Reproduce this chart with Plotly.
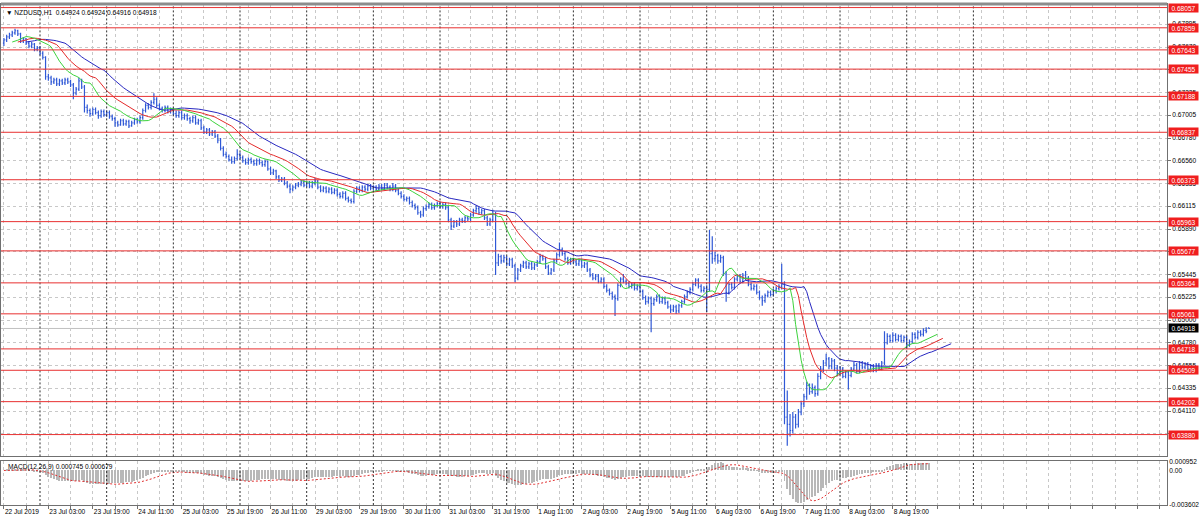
import plotly.graph_objects as go
import pandas as pd

SYMBOL = "NZDUSD,H1"
FIRST_BAR = -13  # bar index of the leftmost bar (22 Jul 11:00); bar 0 = 23 Jul 00:00

open_ = [
    0.6771,0.6774,0.6777,0.6779,0.6781,0.6783,0.6780,0.6773,0.6775,0.6771,0.6768,0.6770,0.6765,
    0.6766,0.6761,0.6757,0.6738,0.6737,0.6733,0.6735,0.6731,0.6734,0.6732,0.6735,0.6733,0.6730,0.6722,0.6726,0.6734,0.6728,0.6708,0.6705,0.6702,0.6706,0.6703,0.6700,0.6704,
    0.6701,0.6703,0.6699,0.6697,0.6693,0.6691,0.6695,0.6692,0.6694,0.6690,0.6693,0.6696,0.6694,0.6698,0.6705,0.6710,0.6708,0.6713,0.6716,0.6710,0.6707,0.6705,0.6708,0.6704,
    0.6706,0.6702,0.6700,0.6703,0.6698,0.6700,0.6697,0.6695,0.6698,0.6693,0.6695,0.6688,0.6684,0.6686,0.6682,0.6684,0.6680,0.6676,0.6668,0.6662,0.6660,0.6657,0.6655,0.6658,
    0.6662,0.6659,0.6656,0.6654,0.6657,0.6655,0.6653,0.6656,0.6654,0.6652,0.6655,0.6648,0.6644,0.6646,0.6640,0.6637,0.6638,0.6634,0.6631,0.6628,0.6630,0.6632,0.6633,0.6635,
    0.6632,0.6634,0.6631,0.6634,0.6636,0.6630,0.6627,0.6629,0.6626,0.6628,0.6625,0.6627,0.6623,0.6621,0.6624,0.6619,0.6617,0.6616,0.6626,0.6629,0.6627,0.6630,0.6628,0.6631,
    0.6629,0.6630,0.6628,0.6631,0.6629,0.6632,0.6630,0.6628,0.6631,0.6627,0.6624,0.6621,0.6618,0.6619,0.6615,0.6612,0.6610,0.6605,0.6603,0.6609,0.6611,0.6613,0.6610,0.6612,
    0.6614,0.6611,0.6613,0.6610,0.6598,0.6592,0.6596,0.6594,0.6598,0.6597,0.6600,0.6599,0.6603,0.6607,0.6609,0.6605,0.6607,0.6600,0.6594,0.6598,0.6604,0.6556,0.6562,0.6558,
    0.6561,0.6555,0.6559,0.6553,0.6541,0.6549,0.6553,0.6556,0.6552,0.6555,0.6551,0.6554,0.6557,0.6562,0.6560,0.6552,0.6546,0.6549,0.6558,0.6564,0.6569,0.6565,0.6560,0.6556,
    0.6559,0.6557,0.6555,0.6558,0.6553,0.6555,0.6549,0.6544,0.6541,0.6543,0.6538,0.6540,0.6533,0.6529,0.6526,0.6523,0.6521,0.6534,0.6540,0.6538,0.6536,0.6533,0.6535,0.6531,
    0.6533,0.6528,0.6522,0.6518,0.6521,0.6516,0.6520,0.6523,0.6518,0.6521,0.6517,0.6513,0.6510,0.6513,0.6509,0.6514,0.6518,0.6523,0.6527,0.6530,0.6535,0.6539,0.6533,0.6529,
    0.6531,0.6530,0.6565,0.6560,0.6563,0.6558,0.6561,0.6545,0.6527,0.6535,0.6532,0.6540,0.6543,0.6538,0.6544,0.6541,0.6535,0.6531,0.6533,0.6527,0.6522,0.6519,0.6524,0.6527,
    0.6525,0.6529,0.6531,0.6533,0.6535,0.6405,0.6398,0.6392,0.6405,0.6398,0.6410,0.6418,0.6425,0.6436,0.6430,0.6434,0.6428,0.6445,0.6452,0.6458,0.6462,0.6455,0.6460,0.6453,
    0.6448,0.6452,0.6445,0.6449,0.6446,0.6452,0.6456,0.6450,0.6458,0.6454,0.6457,0.6452,0.6455,0.6451,0.6456,0.6453,0.6458,0.6478,0.6484,0.6480,0.6485,0.6481,0.6484,0.6480,
    0.6483,0.6476,0.6479,0.6486,0.6483,0.6488,0.6486,0.6490,0.64924,
]
high = [
    0.6776,0.6779,0.6781,0.6783,0.6785,0.6784,0.6781,0.6777,0.6776,0.6773,0.6772,0.6771,0.6768,
    0.6768,0.6763,0.6758,0.6741,0.6739,0.6737,0.6737,0.6736,0.6736,0.6737,0.6737,0.6735,0.6732,0.6728,0.6737,0.6736,0.6730,0.6711,0.6707,0.6708,0.6708,0.6705,0.6706,0.6706,
    0.6705,0.6705,0.6701,0.6699,0.6695,0.6697,0.6697,0.6696,0.6696,0.6695,0.6698,0.6698,0.6700,0.6707,0.6712,0.6712,0.6715,0.6722,0.6718,0.6712,0.6709,0.6710,0.6710,0.6708,
    0.6708,0.6705,0.6705,0.6705,0.6702,0.6702,0.6699,0.6700,0.6700,0.6697,0.6697,0.6690,0.6688,0.6688,0.6686,0.6686,0.6682,0.6678,0.6670,0.6665,0.6662,0.6660,0.6660,0.6667,
    0.6664,0.6661,0.6658,0.6659,0.6659,0.6657,0.6658,0.6658,0.6656,0.6657,0.6656,0.6650,0.6648,0.6647,0.6642,0.6640,0.6640,0.6636,0.6633,0.6632,0.6634,0.6635,0.6637,0.6637,
    0.6636,0.6636,0.6636,0.6639,0.6637,0.6632,0.6631,0.6631,0.6630,0.6630,0.6629,0.6629,0.6625,0.6626,0.6626,0.6621,0.6619,0.6628,0.6631,0.6631,0.6632,0.6632,0.6633,0.6633,
    0.6632,0.6632,0.6633,0.6633,0.6634,0.6634,0.6632,0.6634,0.6633,0.6629,0.6626,0.6623,0.6621,0.6621,0.6617,0.6614,0.6612,0.6607,0.6611,0.6613,0.6615,0.6615,0.6614,0.6616,
    0.6616,0.6615,0.6615,0.6612,0.6600,0.6598,0.6598,0.6600,0.6600,0.6602,0.6602,0.6605,0.6609,0.6612,0.6611,0.6609,0.6609,0.6602,0.6600,0.6608,0.6606,0.6565,0.6564,0.6564,
    0.6563,0.6561,0.6561,0.6555,0.6551,0.6555,0.6558,0.6558,0.6557,0.6557,0.6556,0.6559,0.6565,0.6564,0.6562,0.6554,0.6551,0.6560,0.6566,0.6576,0.6571,0.6567,0.6562,0.6561,
    0.6561,0.6559,0.6560,0.6560,0.6557,0.6557,0.6551,0.6546,0.6545,0.6545,0.6542,0.6542,0.6535,0.6531,0.6528,0.6525,0.6536,0.6542,0.6545,0.6540,0.6538,0.6537,0.6537,0.6535,
    0.6535,0.6530,0.6524,0.6523,0.6523,0.6522,0.6525,0.6525,0.6523,0.6523,0.6519,0.6515,0.6515,0.6515,0.6516,0.6520,0.6525,0.6529,0.6532,0.6537,0.6541,0.6541,0.6535,0.6533,
    0.6534,0.6588,0.6582,0.6567,0.6565,0.6564,0.6563,0.6548,0.6537,0.6537,0.6542,0.6545,0.6545,0.6546,0.6548,0.6543,0.6537,0.6535,0.6535,0.6529,0.6524,0.6526,0.6529,0.6529,
    0.6531,0.6533,0.6535,0.6555,0.6538,0.6431,0.6408,0.6410,0.6408,0.6413,0.6421,0.6428,0.6440,0.6438,0.6438,0.6436,0.6448,0.6455,0.6461,0.6467,0.6464,0.6463,0.6462,0.6456,
    0.6455,0.6454,0.6451,0.6451,0.6454,0.6459,0.6458,0.6460,0.6460,0.6459,0.6459,0.6457,0.6457,0.6458,0.6458,0.6460,0.6489,0.6487,0.6486,0.6488,0.6487,0.6486,0.6486,0.6485,
    0.6485,0.6481,0.6488,0.6488,0.6490,0.6490,0.6492,0.6493,0.64924,
]
low = [
    0.6768,0.6772,0.6775,0.6777,0.6779,0.6778,0.6771,0.6771,0.6769,0.6766,0.6766,0.6763,0.6763,
    0.6759,0.6755,0.6735,0.6734,0.6730,0.6731,0.6729,0.6729,0.6730,0.6730,0.6731,0.6728,0.6716,0.6720,0.6724,0.6726,0.6703,0.6702,0.6699,0.6700,0.6701,0.6697,0.6698,0.6699,
    0.6699,0.6697,0.6695,0.6689,0.6689,0.6690,0.6690,0.6690,0.6688,0.6689,0.6691,0.6692,0.6692,0.6696,0.6703,0.6706,0.6706,0.6711,0.6708,0.6705,0.6703,0.6703,0.6702,0.6702,
    0.6700,0.6698,0.6698,0.6696,0.6696,0.6695,0.6692,0.6693,0.6691,0.6691,0.6686,0.6682,0.6682,0.6680,0.6680,0.6678,0.6673,0.6666,0.6660,0.6658,0.6655,0.6653,0.6653,0.6656,
    0.6657,0.6654,0.6652,0.6652,0.6653,0.6651,0.6651,0.6652,0.6650,0.6650,0.6646,0.6642,0.6642,0.6638,0.6635,0.6635,0.6632,0.6629,0.6624,0.6626,0.6628,0.6630,0.6631,0.6630,
    0.6630,0.6629,0.6629,0.6632,0.6628,0.6625,0.6625,0.6624,0.6624,0.6623,0.6623,0.6621,0.6619,0.6619,0.6617,0.6615,0.6614,0.6614,0.6624,0.6625,0.6625,0.6626,0.6626,0.6627,
    0.6627,0.6626,0.6626,0.6627,0.6627,0.6628,0.6626,0.6626,0.6625,0.6622,0.6619,0.6616,0.6616,0.6613,0.6610,0.6608,0.6603,0.6600,0.6601,0.6607,0.6609,0.6608,0.6608,0.6610,
    0.6609,0.6609,0.6608,0.6596,0.6588,0.6590,0.6591,0.6592,0.6595,0.6595,0.6597,0.6597,0.6601,0.6605,0.6603,0.6603,0.6598,0.6592,0.6592,0.6596,0.6544,0.6553,0.6555,0.6556,
    0.6553,0.6553,0.6551,0.6537,0.6539,0.6547,0.6551,0.6550,0.6550,0.6549,0.6549,0.6552,0.6555,0.6558,0.6550,0.6544,0.6544,0.6547,0.6556,0.6562,0.6563,0.6558,0.6554,0.6554,
    0.6555,0.6553,0.6553,0.6551,0.6551,0.6547,0.6542,0.6539,0.6539,0.6536,0.6536,0.6531,0.6527,0.6524,0.6520,0.6504,0.6519,0.6532,0.6536,0.6534,0.6531,0.6531,0.6529,0.6529,
    0.6526,0.6520,0.6515,0.6516,0.6488,0.6514,0.6518,0.6516,0.6516,0.6515,0.6511,0.6507,0.6508,0.6506,0.6507,0.6512,0.6516,0.6521,0.6525,0.6528,0.6533,0.6531,0.6527,0.6527,
    0.6508,0.6528,0.6555,0.6557,0.6555,0.6556,0.6543,0.6518,0.6525,0.6530,0.6530,0.6538,0.6536,0.6536,0.6539,0.6533,0.6529,0.6529,0.6525,0.6520,0.6514,0.6517,0.6522,0.6523,
    0.6523,0.6526,0.6529,0.6530,0.6398,0.6377,0.6386,0.6389,0.6394,0.6395,0.6407,0.6415,0.6422,0.6427,0.6428,0.6425,0.6426,0.6442,0.6449,0.6455,0.6452,0.6452,0.6450,0.6445,
    0.6446,0.6443,0.6443,0.6432,0.6444,0.6450,0.6448,0.6448,0.6452,0.6452,0.6450,0.6450,0.6449,0.6449,0.6451,0.6451,0.6456,0.6476,0.6478,0.6478,0.6479,0.6479,0.6478,0.6478,
    0.6472,0.6474,0.6477,0.6481,0.6481,0.6484,0.6484,0.6487,0.64916,
]
close = [
    0.6774,0.6777,0.6779,0.6781,0.6783,0.6780,0.6773,0.6775,0.6771,0.6768,0.6770,0.6765,0.6766,
    0.6761,0.6757,0.6738,0.6737,0.6733,0.6735,0.6731,0.6734,0.6732,0.6735,0.6733,0.6730,0.6722,0.6726,0.6734,0.6728,0.6708,0.6705,0.6702,0.6706,0.6703,0.6700,0.6704,0.6701,
    0.6703,0.6699,0.6697,0.6693,0.6691,0.6695,0.6692,0.6694,0.6690,0.6693,0.6696,0.6694,0.6698,0.6705,0.6710,0.6708,0.6713,0.6716,0.6710,0.6707,0.6705,0.6708,0.6704,0.6706,
    0.6702,0.6700,0.6703,0.6698,0.6700,0.6697,0.6695,0.6698,0.6693,0.6695,0.6688,0.6684,0.6686,0.6682,0.6684,0.6680,0.6676,0.6668,0.6662,0.6660,0.6657,0.6655,0.6658,0.6662,
    0.6659,0.6656,0.6654,0.6657,0.6655,0.6653,0.6656,0.6654,0.6652,0.6655,0.6648,0.6644,0.6646,0.6640,0.6637,0.6638,0.6634,0.6631,0.6628,0.6630,0.6632,0.6633,0.6635,0.6632,
    0.6634,0.6631,0.6634,0.6636,0.6630,0.6627,0.6629,0.6626,0.6628,0.6625,0.6627,0.6623,0.6621,0.6624,0.6619,0.6617,0.6616,0.6626,0.6629,0.6627,0.6630,0.6628,0.6631,0.6629,
    0.6630,0.6628,0.6631,0.6629,0.6632,0.6630,0.6628,0.6631,0.6627,0.6624,0.6621,0.6618,0.6619,0.6615,0.6612,0.6610,0.6605,0.6603,0.6609,0.6611,0.6613,0.6610,0.6612,0.6614,
    0.6611,0.6613,0.6610,0.6598,0.6592,0.6596,0.6594,0.6598,0.6597,0.6600,0.6599,0.6603,0.6607,0.6609,0.6605,0.6607,0.6600,0.6594,0.6598,0.6604,0.6556,0.6562,0.6558,0.6561,
    0.6555,0.6559,0.6553,0.6541,0.6549,0.6553,0.6556,0.6552,0.6555,0.6551,0.6554,0.6557,0.6562,0.6560,0.6552,0.6546,0.6549,0.6558,0.6564,0.6569,0.6565,0.6560,0.6556,0.6559,
    0.6557,0.6555,0.6558,0.6553,0.6555,0.6549,0.6544,0.6541,0.6543,0.6538,0.6540,0.6533,0.6529,0.6526,0.6523,0.6521,0.6534,0.6540,0.6538,0.6536,0.6533,0.6535,0.6531,0.6533,
    0.6528,0.6522,0.6518,0.6521,0.6516,0.6520,0.6523,0.6518,0.6521,0.6517,0.6513,0.6510,0.6513,0.6509,0.6514,0.6518,0.6523,0.6527,0.6530,0.6535,0.6539,0.6533,0.6529,0.6531,
    0.6530,0.6565,0.6560,0.6563,0.6558,0.6561,0.6545,0.6527,0.6535,0.6532,0.6540,0.6543,0.6538,0.6544,0.6541,0.6535,0.6531,0.6533,0.6527,0.6522,0.6519,0.6524,0.6527,0.6525,
    0.6529,0.6531,0.6533,0.6535,0.6405,0.6398,0.6392,0.6405,0.6398,0.6410,0.6418,0.6425,0.6436,0.6430,0.6434,0.6428,0.6445,0.6452,0.6458,0.6462,0.6455,0.6460,0.6453,0.6448,
    0.6452,0.6445,0.6449,0.6446,0.6452,0.6456,0.6450,0.6458,0.6454,0.6457,0.6452,0.6455,0.6451,0.6456,0.6453,0.6458,0.6478,0.6484,0.6480,0.6485,0.6481,0.6484,0.6480,0.6483,
    0.6476,0.6479,0.6486,0.6483,0.6488,0.6486,0.6490,0.6489,0.64918,
]

LEVELS = [0.68057, 0.67859, 0.67643, 0.67455, 0.67188, 0.66837, 0.66373, 0.65963,
          0.65677, 0.65364, 0.65061, 0.64718, 0.64509, 0.64202, 0.63880]
PRICE_TICKS = [0.63665, 0.63890, 0.64110, 0.64335, 0.64555, 0.64780, 0.65000, 0.65225,
               0.65445, 0.65670, 0.65890, 0.66115, 0.66335, 0.66560, 0.66780, 0.67005,
               0.67225, 0.67450, 0.67670, 0.67895]
LABEL_BARS = [-13, 3, 19, 35, 51, 67, 83, 99, 115, 131, 147, 163, 179, 195, 211, 227,
              243, 259, 275, 291, 307]
LABEL_TEXT = ["22 Jul 2019", "23 Jul 03:00", "23 Jul 19:00", "24 Jul 11:00", "25 Jul 03:00",
              "25 Jul 19:00", "26 Jul 11:00", "29 Jul 03:00", "29 Jul 19:00", "30 Jul 11:00",
              "31 Jul 03:00", "31 Jul 19:00", "1 Aug 11:00", "2 Aug 03:00", "2 Aug 19:00",
              "5 Aug 11:00", "6 Aug 03:00", "6 Aug 19:00", "7 Aug 11:00", "8 Aug 03:00",
              "8 Aug 19:00"]
DAY_START_BARS = [0, 24, 48, 72, 96, 120, 144, 168, 192, 216, 240, 264, 288, 312, 336]
MACD_TICKS = [0.000952, 0.0, -0.003602]
MACD_TICK_TEXT = ["0.000952", "0.00", "-0.003602"]
MACD_SHOWN = [0.000745, 0.000679]

# ---------------- derived series ----------------
n = len(close)
bars = list(range(FIRST_BAR, FIRST_BAR + n))
df = pd.DataFrame({"o": open_, "h": high, "l": low, "c": close}, index=bars)
median = (df["h"] + df["l"]) / 2


def smma(s, period):
    return s.ewm(alpha=1.0 / period, adjust=False).mean()


jaw = smma(median, 13)
teeth = smma(median, 8)
lips = smma(median, 5)
ema12 = df["c"].ewm(span=12, adjust=False).mean()
ema26 = df["c"].ewm(span=26, adjust=False).mean()
macd = ema12 - ema26
signal = macd.rolling(9, min_periods=1).mean()

FONT = "Liberation Sans"
FS = 6.6
BAR_BLUE = "#2f58d6"

fig = go.Figure()
fig.add_trace(go.Ohlc(x=bars, open=df["o"], high=df["h"], low=df["l"], close=df["c"],
                      increasing=dict(line=dict(color=BAR_BLUE, width=1.2)),
                      decreasing=dict(line=dict(color=BAR_BLUE, width=1.2)),
                      tickwidth=0.35, xaxis="x", yaxis="y", hoverinfo="skip"))
fig.add_trace(go.Scatter(x=[b + 8 for b in bars], y=jaw, mode="lines",
                         line=dict(color="#2828c0", width=1), xaxis="x", yaxis="y"))
fig.add_trace(go.Scatter(x=[b + 5 for b in bars], y=teeth, mode="lines",
                         line=dict(color="#e42a2a", width=1), xaxis="x", yaxis="y"))
fig.add_trace(go.Scatter(x=[b + 3 for b in bars], y=lips, mode="lines",
                         line=dict(color="#3cd23c", width=1), xaxis="x", yaxis="y"))
fig.add_trace(go.Bar(x=bars, y=macd, width=0.35, marker=dict(color="#b8b8b8", line=dict(width=0)),
                     xaxis="x2", yaxis="y2"))
fig.add_trace(go.Scatter(x=bars, y=signal, mode="lines",
                         line=dict(color="#e03030", width=1, dash="2px,2px"), xaxis="x2", yaxis="y2"))

grid_bars = list(range(FIRST_BAR, 410, 8))
label_map = dict(zip(LABEL_BARS, LABEL_TEXT))
tick_text = [label_map.get(b, "") for b in grid_bars]

X_RANGE = [-14.04, 405.7]
common_x = dict(range=X_RANGE, showgrid=True, gridcolor="#c8c8c8", griddash="3px,3px",
                gridwidth=1, zeroline=False, showline=True, linecolor="#707070", mirror=True,
                rangeslider=dict(visible=False), tickmode="array", tickvals=grid_bars,
                tickangle=0)

shapes = []
for d in DAY_START_BARS:
    for yr in ("y domain", "y2 domain"):
        shapes.append(dict(type="line", xref="x", yref=yr, x0=d, x1=d, y0=0, y1=1,
                           line=dict(color="#303030", width=1, dash="2px,2px"), layer="above"))
for lv in LEVELS:
    shapes.append(dict(type="line", xref="x domain", yref="y", x0=0, x1=1, y0=lv, y1=lv,
                       line=dict(color="#e83030", width=1), layer="above"))
shapes.append(dict(type="line", xref="x domain", yref="y", x0=0, x1=1, y0=close[-1], y1=close[-1],
                   line=dict(color="#c0c0c0", width=1), layer="below"))
# frame line across the top of the chart window
shapes.append(dict(type="line", xref="paper", yref="paper", x0=0, x1=1, y0=1, y1=1,
                   line=dict(color="#8c8c8c", width=3)))

annotations = []
for lv in LEVELS:
    annotations.append(dict(xref="paper", x=1, xanchor="left", xshift=1, yref="y", y=lv,
                            text=f"{lv:.5f}", showarrow=False, width=29, height=8, align="center",
                            bgcolor="#f01e1e", borderpad=0,
                            font=dict(family=FONT, size=FS, color="white")))
annotations.append(dict(xref="paper", x=1, xanchor="left", xshift=1, yref="y", y=close[-1],
                        text=f"{close[-1]:.5f}", showarrow=False, width=29, height=8, align="center",
                        bgcolor="#000000", borderpad=0,
                        font=dict(family=FONT, size=FS, color="white")))
header = f"{SYMBOL}  {open_[-1]:.5f} {high[-1]:.5f} {low[-1]:.5f} {close[-1]:.5f}"
annotations.append(dict(xref="paper", x=0, xanchor="left", xshift=3, yref="paper", y=1,
                        yanchor="top", yshift=-3, text="▼ " + header, showarrow=False,
                        font=dict(family=FONT, size=FS, color="black")))
annotations.append(dict(xref="paper", x=0, xanchor="left", xshift=5, yref="y2 domain", y=1,
                        yanchor="top", yshift=0,
                        text=f"MACD(12,26,9) {MACD_SHOWN[0]:.6f} {MACD_SHOWN[1]:.6f}",
                        showarrow=False, font=dict(family=FONT, size=FS, color="black")))

fig.update_layout(
    width=1200, height=523, margin=dict(l=1, r=33, t=0, b=18),
    paper_bgcolor="white", plot_bgcolor="white", showlegend=False,
    font=dict(family=FONT, size=FS, color="black"),
    xaxis=dict(domain=[0, 1], anchor="y", showticklabels=False, ticks="", **common_x),
    yaxis=dict(domain=[0.097, 1], anchor="x", side="right", range=[0.636664, 0.680919],
               tickmode="array", tickvals=PRICE_TICKS, ticktext=[f"{v:.5f}" for v in PRICE_TICKS],
               showgrid=True, gridcolor="#c8c8c8", griddash="3px,3px", zeroline=False,
               showline=True, linecolor="#707070", mirror=True, ticks="outside", ticklen=3,
               tickcolor="#707070", tickfont=dict(family=FONT, size=FS, color="black")),
    xaxis2=dict(domain=[0, 1], anchor="y2", matches="x", ticktext=tick_text, ticks="outside",
                ticklen=3, tickcolor="#707070", ticklabelposition="outside right",
                tickfont=dict(family=FONT, size=FS, color="black"), **common_x),
    yaxis2=dict(domain=[0, 0.0871], anchor="x2", side="right", range=[-0.003602, 0.000952],
                tickmode="array", tickvals=MACD_TICKS, ticktext=MACD_TICK_TEXT,
                showgrid=False, zeroline=False, showline=True, linecolor="#707070", mirror=True,
                ticks="", tickfont=dict(family=FONT, size=FS, color="black")),
    shapes=shapes, annotations=annotations, bargap=0,
)

fig.write_html("out.html", config={"displayModeBar": False},
               post_script="document.body.style.margin='0';")
